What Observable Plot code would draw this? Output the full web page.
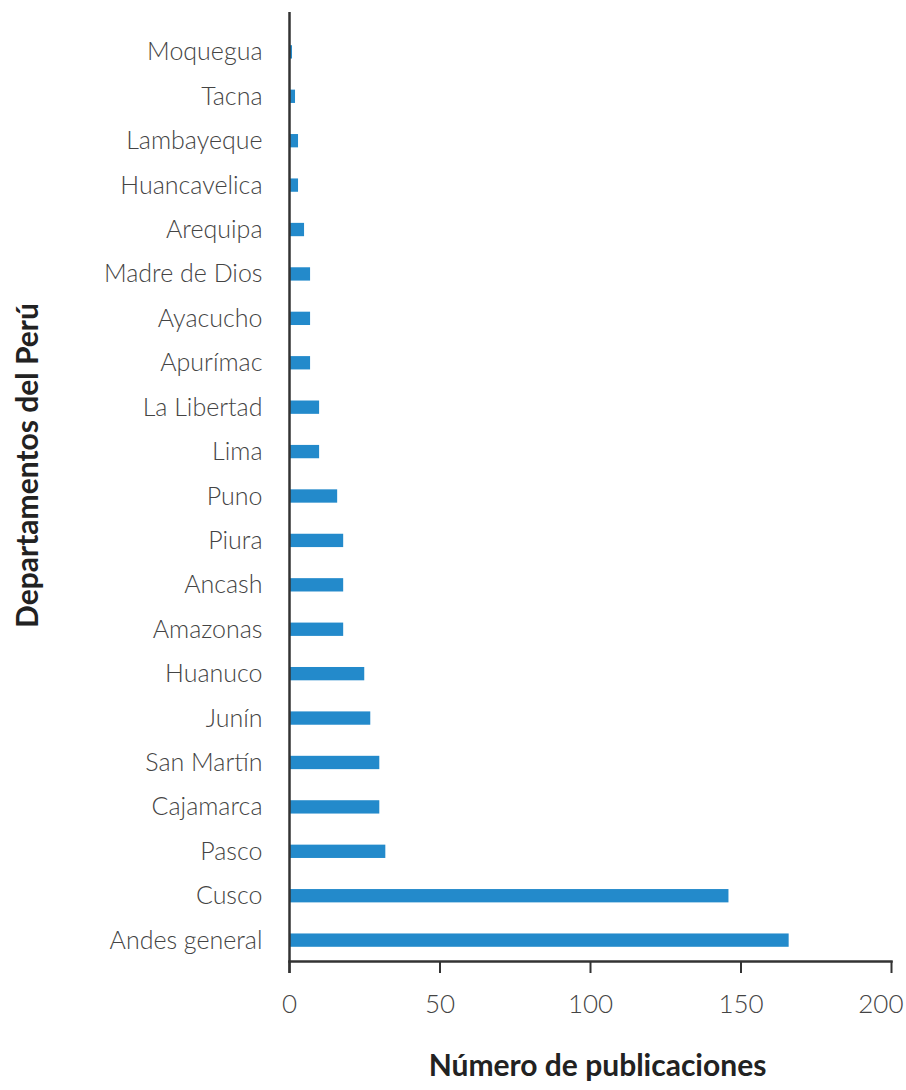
<!DOCTYPE html>
<html>
<head>
<meta charset="utf-8">
<script src="https://cdn.jsdelivr.net/npm/d3@7"></script>
<script src="https://cdn.jsdelivr.net/npm/@observablehq/plot@0.6"></script>
<style>
  html, body { margin: 0; padding: 0; background: #fff; }
  #chart svg { display: block; }
</style>
</head>
<body>
<div id="chart"></div>
<script>
const departamentos = ["Moquegua","Tacna","Lambayeque","Huancavelica","Arequipa","Madre de Dios","Ayacucho","Apurímac","La Libertad","Lima","Puno","Piura","Ancash","Amazonas","Huanuco","Junín","San Martín","Cajamarca","Pasco","Cusco","Andes general"];
const publicaciones = [1,2,3,3,5,7,7,7,10,10,16,18,18,18,25,27,30,30,32,146,166];
const xTicks = [0,50,100,150,200];
const xLabel = "Número de publicaciones";
const yLabel = "Departamentos del Perú";

const data = departamentos.map((d, i) => ({dep: d, n: publicaciones[i]}));
const lastTick = xTicks[xTicks.length - 1];

const chart = Plot.plot({
  width: 906,
  height: 1090,
  marginLeft: 289,
  marginRight: 15,
  marginTop: 31,
  marginBottom: 129,
  style: {fontFamily: "Lato, 'DejaVu Sans', sans-serif", background: "#fff"},
  x: {domain: [0, 200], ticks: xTicks, label: null},
  y: {domain: departamentos, paddingInner: 0.7, paddingOuter: 0.32, round: false, label: null},
  marks: [
    Plot.barX(data, {x: "n", y: "dep", fill: "#238acb"}),
    Plot.axisY({tickSize: 0, tickPadding: 27, fontSize: 25, fontWeight: 300, fill: "#444", label: null}),
    Plot.axisX({ticks: xTicks, tickSize: 12, tickFormat: () => "", stroke: "#333", strokeWidth: 2, strokeOpacity: 1, label: null}),
    Plot.axisX({ticks: xTicks.slice(0, -1), tickSize: 0, tickPadding: 33, fontSize: 26, fontWeight: 300, fill: "#444", label: null}),
    Plot.axisX({ticks: [lastTick], tickSize: 0, tickPadding: 33, fontSize: 26, fontWeight: 300, fill: "#444", textAnchor: "end", dx: 12, label: null}),
    Plot.ruleX([0], {stroke: "#333", strokeWidth: 2.5, insetTop: -19, insetBottom: -12}),
    Plot.frame({anchor: "bottom", stroke: "#333", strokeWidth: 2.5}),
    Plot.text([xLabel], {frameAnchor: "bottom", dy: 114, dx: 7, fontSize: 30, fontWeight: 700, fill: "#222"}),
    Plot.text([yLabel], {frameAnchor: "left", textAnchor: "middle", dx: -261, dy: -31, rotate: -90, fontSize: 30, fontWeight: 700, fill: "#222"})
  ]
});
document.getElementById("chart").appendChild(chart);
</script>
</body>
</html>
